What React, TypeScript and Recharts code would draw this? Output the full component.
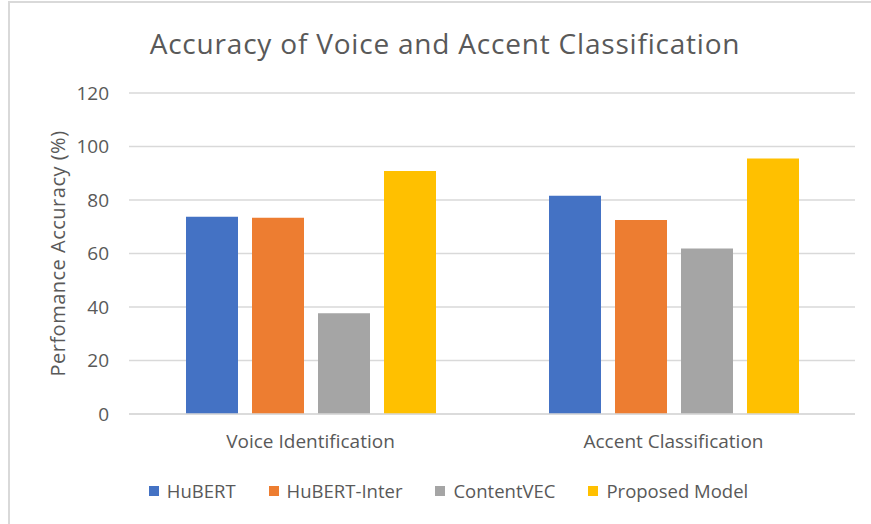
import React from "react";
import { BarChart, Bar, XAxis, YAxis, CartesianGrid, Legend } from "recharts";

const categories = ["Voice Identification", "Accent Classification"];
const hubert = [73.7, 81.6];
const hubertInter = [73.4, 72.5];
const contentVec = [37.7, 61.9];
const proposed = [90.8, 95.5];
const yTicks = [0, 20, 40, 60, 80, 100, 120];

const seriesNames = ["HuBERT", "HuBERT-Inter", "ContentVEC", "Proposed Model"];
const seriesKeys = ["hubert", "hubertInter", "contentVec", "proposed"];
const seriesColors = ["#4472C4", "#ED7D31", "#A5A5A5", "#FFC000"];

const data = categories.map((c, i) => ({
  name: c,
  hubert: hubert[i],
  hubertInter: hubertInter[i],
  contentVec: contentVec[i],
  proposed: proposed[i],
}));

const FONT = "'Open Sans', sans-serif";
const TEXT = "#595959";

const YLabel = (props: any) => {
  const vb = props.viewBox || { x: 0, y: 0, width: 0, height: 0 };
  const cx = 47;
  const cy = vb.y + vb.height / 2;
  return (
    <text
      x={cx}
      y={cy}
      transform={`rotate(-90, ${cx}, ${cy})`}
      textAnchor="middle"
      dominantBaseline="central"
      fill={TEXT}
      style={{ fontFamily: FONT, fontSize: 20, letterSpacing: 0.5 }}
    >
      Perfomance Accuracy (%)
    </text>
  );
};

const LegendContent = () => (
  <div
    style={{
      display: "flex",
      justifyContent: "center",
      fontFamily: FONT,
      fontSize: 18.5,
      color: TEXT,
      lineHeight: "26px",
    }}
  >
    {seriesNames.map((n, i) => (
      <div key={n} style={{ display: "flex", alignItems: "center", marginRight: i < 3 ? 33 : 0 }}>
        <span style={{ display: "inline-block", width: 10, height: 10, background: seriesColors[i], marginRight: 8 }} />
        <span>{n}</span>
      </div>
    ))}
  </div>
);

export default function App() {
  return (
    <div style={{ position: "absolute", left: 0, top: 0, width: 871, height: 524, overflow: "hidden", background: "#fff" }}>
      <div
        style={{
          position: "absolute",
          left: 8,
          top: 1,
          width: 900,
          height: 560,
          borderLeft: "2px solid #d9d9d9",
          borderTop: "2px solid #d9d9d9",
        }}
      />
      <div
        style={{
          position: "absolute",
          left: 10,
          top: 23,
          width: 870,
          textAlign: "center",
          fontFamily: FONT,
          fontSize: 28,
          letterSpacing: 0.8,
          color: TEXT,
          lineHeight: "40px",
        }}
      >
        Accuracy of Voice and Accent Classification
      </div>
      <div style={{ position: "absolute", left: 10, top: 3 }}>
        <BarChart
          width={861}
          height={521}
          data={data}
          margin={{ top: 90, right: 16, bottom: 0, left: 0 }}
          barSize={52}
          barGap={14}
        >
          <CartesianGrid vertical={false} stroke="#d9d9d9" strokeWidth={1.5} />
          <XAxis
            dataKey="name"
            axisLine={{ stroke: "#d9d9d9", strokeWidth: 1.5 }}
            tickLine={false}
            tick={{ fill: TEXT, fontSize: 19, fontFamily: FONT }}
            tickMargin={15}
            height={60}
          />
          <YAxis
            width={119}
            domain={[0, 120]}
            ticks={yTicks}
            axisLine={false}
            tickLine={false}
            tickMargin={14}
            tick={{ fill: TEXT, fontSize: 19, fontFamily: FONT }}
            label={<YLabel />}
          />
          <Legend
            verticalAlign="bottom"
            height={50}
            content={<LegendContent />}
            wrapperStyle={{ left: 13, width: 871 - 10 - 10, top: 475, bottom: "auto" }}
          />
          {seriesKeys.map((k, i) => (
            <Bar key={k} dataKey={k} name={seriesNames[i]} fill={seriesColors[i]} isAnimationActive={false} />
          ))}
        </BarChart>
      </div>
    </div>
  );
}
